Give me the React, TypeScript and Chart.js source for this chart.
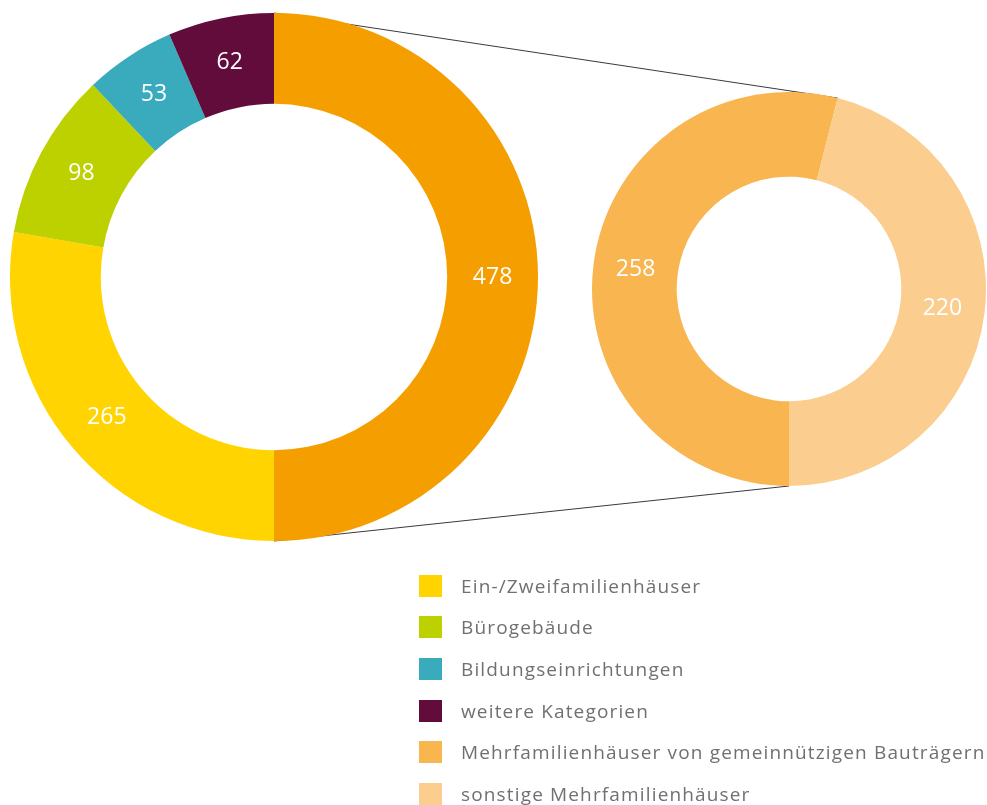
import React, { useEffect, useRef } from "react";
import { Chart, registerables } from "chart.js";

Chart.register(...registerables);

const mainLabels = [
  "Mehrfamilienhäuser",
  "Ein-/Zweifamilienhäuser",
  "Bürogebäude",
  "Bildungseinrichtungen",
  "weitere Kategorien",
];
const mainValues = [478, 265, 98, 53, 62];
const mainColors = ["#F59E00", "#FFD400", "#BDD000", "#3AAABD", "#620C3C"];

const subLabels = [
  "Mehrfamilienhäuser von gemeinnützigen Bauträgern",
  "sonstige Mehrfamilienhäuser",
];
const subValues = [258, 220];
const subColors = ["#F8B550", "#FBCD8F"];

const legendLabels = [
  "Ein-/Zweifamilienhäuser",
  "Bürogebäude",
  "Bildungseinrichtungen",
  "weitere Kategorien",
  "Mehrfamilienhäuser von gemeinnützigen Bauträgern",
  "sonstige Mehrfamilienhäuser",
];
const legendColors = ["#FFD400", "#BDD000", "#3AAABD", "#620C3C", "#F8B550", "#FBCD8F"];

const FONT = "'Open Sans', 'Noto Sans', sans-serif";

const valueLabelPlugin = {
  id: "valueLabels",
  afterDatasetsDraw(chart: any) {
    const ctx = chart.ctx;
    const meta = chart.getDatasetMeta(0);
    const data = chart.data.datasets[0].data;
    ctx.save();
    ctx.fillStyle = "#ffffff";
    ctx.font = `400 23px ${FONT}`;
    ctx.textAlign = "center";
    ctx.textBaseline = "middle";
    meta.data.forEach((arc: any, i: number) => {
      const p = arc.tooltipPosition();
      ctx.fillText(String(data[i]), p.x, p.y);
    });
    ctx.restore();
  },
};

const MAIN = { left: 10, top: 13, size: 528 };
const SUB = { left: 592, top: 92, size: 394 };

export default function App() {
  const bgRef = useRef<HTMLCanvasElement>(null);
  const mainRef = useRef<HTMLCanvasElement>(null);
  const subRef = useRef<HTMLCanvasElement>(null);

  useEffect(() => {
    document.body.style.margin = "0";
    const common = {
      responsive: false,
      animation: false as const,
      plugins: { legend: { display: false }, tooltip: { enabled: false } },
      layout: { padding: 0 },
    };
    const c1 = new Chart(mainRef.current!, {
      type: "doughnut",
      data: {
        labels: mainLabels,
        datasets: [{ data: mainValues, backgroundColor: mainColors, borderWidth: 0 }],
      },
      options: { ...common, cutout: "65.6%", rotation: 0 },
      plugins: [valueLabelPlugin],
    });
    const c2 = new Chart(subRef.current!, {
      type: "doughnut",
      data: {
        labels: subLabels,
        datasets: [{ data: subValues, backgroundColor: subColors, borderWidth: 0 }],
      },
      options: { ...common, cutout: "57%", rotation: 180 },
      plugins: [valueLabelPlugin],
    });

    // connector lines drawn behind the doughnuts from the arc geometry
    const bg = bgRef.current!;
    const ctx = bg.getContext("2d")!;
    ctx.clearRect(0, 0, bg.width, bg.height);
    const a1: any = c1.getDatasetMeta(0).data[0];
    const a2: any = c2.getDatasetMeta(0).data[1];
    const pt = (arc: any, ang: number, off: { left: number; top: number }) => ({
      x: off.left + arc.x + arc.outerRadius * Math.cos(ang),
      y: off.top + arc.y + arc.outerRadius * Math.sin(ang),
    });
    const p1 = pt(a1, a1.startAngle, MAIN);
    const q1 = pt(a2, a2.startAngle, SUB);
    const p2 = pt(a1, a1.endAngle, MAIN);
    const q2 = pt(a2, a2.endAngle, SUB);
    ctx.strokeStyle = "#3a3a3a";
    ctx.lineWidth = 1;
    ctx.beginPath();
    ctx.moveTo(p1.x, p1.y);
    ctx.lineTo(q1.x, q1.y);
    ctx.moveTo(p2.x, p2.y);
    ctx.lineTo(q2.x, q2.y);
    ctx.stroke();

    return () => {
      c1.destroy();
      c2.destroy();
    };
  }, []);

  return (
    <div style={{ position: "relative", width: 987, height: 805, background: "#fff", overflow: "hidden" }}>
      <canvas ref={bgRef} width={987} height={805} style={{ position: "absolute", left: 0, top: 0 }} />
      <canvas
        ref={mainRef}
        width={MAIN.size}
        height={MAIN.size}
        style={{ position: "absolute", left: MAIN.left, top: MAIN.top, width: MAIN.size, height: MAIN.size }}
      />
      <canvas
        ref={subRef}
        width={SUB.size}
        height={SUB.size}
        style={{ position: "absolute", left: SUB.left, top: SUB.top, width: SUB.size, height: SUB.size }}
      />
      <div style={{ position: "absolute", left: 419, top: 565, fontFamily: FONT }}>
        {legendLabels.map((l, i) => (
          <div key={l} style={{ display: "flex", alignItems: "center", height: 41.6 }}>
            <div style={{ width: 23, height: 22, background: legendColors[i], marginRight: 19 }} />
            <span style={{ fontSize: 19, color: "#707070", whiteSpace: "nowrap", letterSpacing: "1.15px" }}>{l}</span>
          </div>
        ))}
      </div>
    </div>
  );
}
